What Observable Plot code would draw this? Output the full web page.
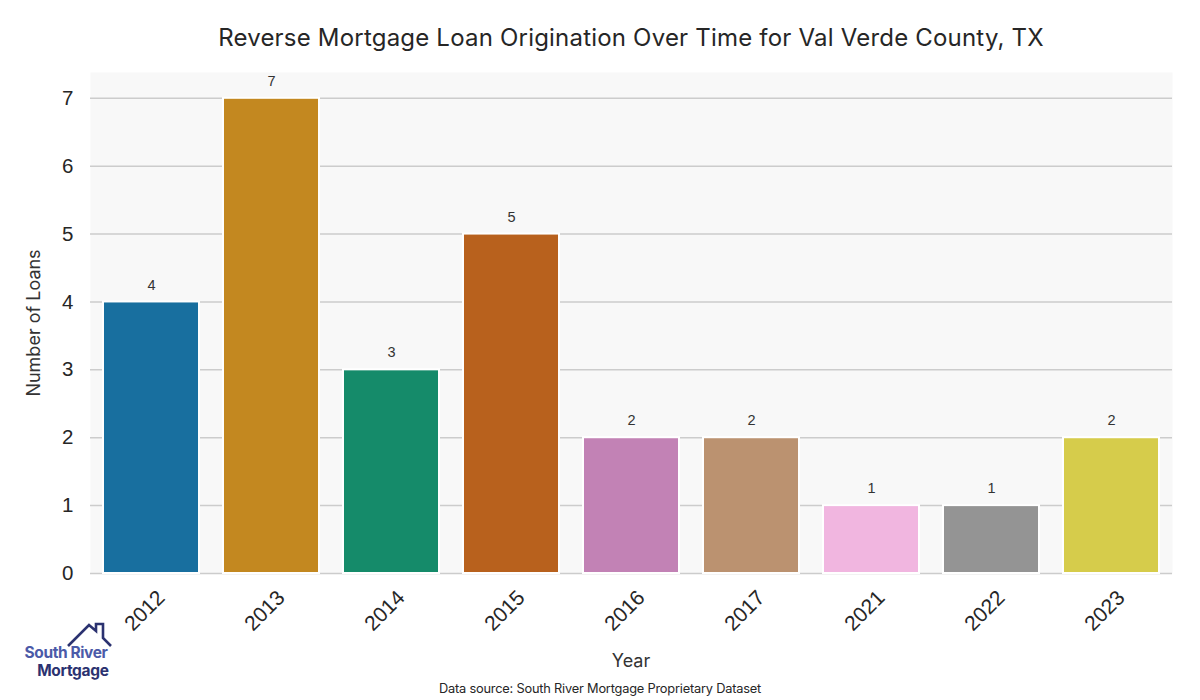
<!DOCTYPE html>
<html><head><meta charset="utf-8">
<script src="https://cdn.jsdelivr.net/npm/d3@7"></script>
<script src="https://cdn.jsdelivr.net/npm/@observablehq/plot@0.6"></script>
<style>
body{margin:0;background:#fff;}
#wrap{position:relative;width:1200px;height:700px;overflow:hidden;font-family:Inter,"Open Sans",sans-serif;}
#title{position:absolute;left:0;width:1262px;top:23px;text-align:center;font-size:24px;color:#262626;letter-spacing:0.2px;}
#xlab{position:absolute;left:0;width:1262px;top:650px;text-align:center;font-size:18px;color:#333;}
#src{position:absolute;left:0;width:1200px;top:681px;text-align:center;font-size:12.8px;color:#262626;letter-spacing:-0.2px;}
#chart{position:absolute;left:0;top:0;}
#logo{position:absolute;left:0;top:600px;}
</style></head><body>
<div id="wrap">
<div id="chart"></div>
<div id="title">Reverse Mortgage Loan Origination Over Time for Val Verde County, TX</div>
<div id="xlab">Year</div>
<div id="src">Data source: South River Mortgage Proprietary Dataset</div>
<svg id="logo" width="130" height="90">
<polyline points="68,46 89,25 96,31 96,24 103,24 103,38 111,46" fill="none" stroke="#2b3270" stroke-width="2.6" stroke-linejoin="miter"/>
<text x="66" y="58" text-anchor="middle" font-family="Inter,sans-serif" font-weight="700" font-size="15.5" fill="#4b5aa8" letter-spacing="-0.4">South River</text>
<text x="73" y="76" text-anchor="middle" font-family="Inter,sans-serif" font-weight="700" font-size="15.5" fill="#2b3270" letter-spacing="-0.3">Mortgage</text>
</svg>
</div>
<script>
const years = ["2012","2013","2014","2015","2016","2017","2021","2022","2023"];
const loans = [4,7,3,5,2,2,1,1,2];
const colors = ["#186f9f","#c38820","#158b6a","#b8611d","#c282b5","#bb9270","#f1b6e0","#949494","#d6cc4b"];
const yTicks = [0,1,2,3,4,5,6,7];
const data = years.map((y,i)=>({year:y, n:loans[i]}));

const chart = Plot.plot({
  width:1200, height:700,
  marginTop:72, marginBottom:127, marginLeft:90, marginRight:28,
  style:{fontFamily:"'Liberation Sans',Arial,sans-serif", background:"transparent"},
  x:{domain:years, paddingInner:0.2, paddingOuter:0.1, axis:null},
  y:{domain:[0,7.38], axis:null},
  color:{domain:years, range:colors},
  marks:[
    Plot.frame({fill:"#f8f8f8", stroke:null}),
    Plot.ruleY(yTicks, {stroke:"#cccccc", strokeWidth:1.5}),
    Plot.barY(data, {x:"year", y:"n", fill:"year", stroke:"white", strokeWidth:2}),
    Plot.text(data, {x:"year", y:"n", text:d=>String(d.n), dy:-17, fontSize:14.5, fill:"#333"}),
    Plot.text(years, {x:d=>d, frameAnchor:"bottom", dy:42, dx:-2, rotate:-45, textAnchor:"middle", text:d=>d, fontSize:21, fill:"#262626"}),
    Plot.text(yTicks, {y:d=>d, frameAnchor:"left", dx:-17, textAnchor:"end", text:d=>String(d), fontSize:20.5, fill:"#262626"}),
    Plot.text(["Number of Loans"], {frameAnchor:"left", dx:-56, rotate:-90, textAnchor:"middle", fontSize:18, fill:"#333", fontFamily:"Inter,sans-serif"})
  ]
});
document.getElementById("chart").appendChild(chart);
</script>
</body></html>
